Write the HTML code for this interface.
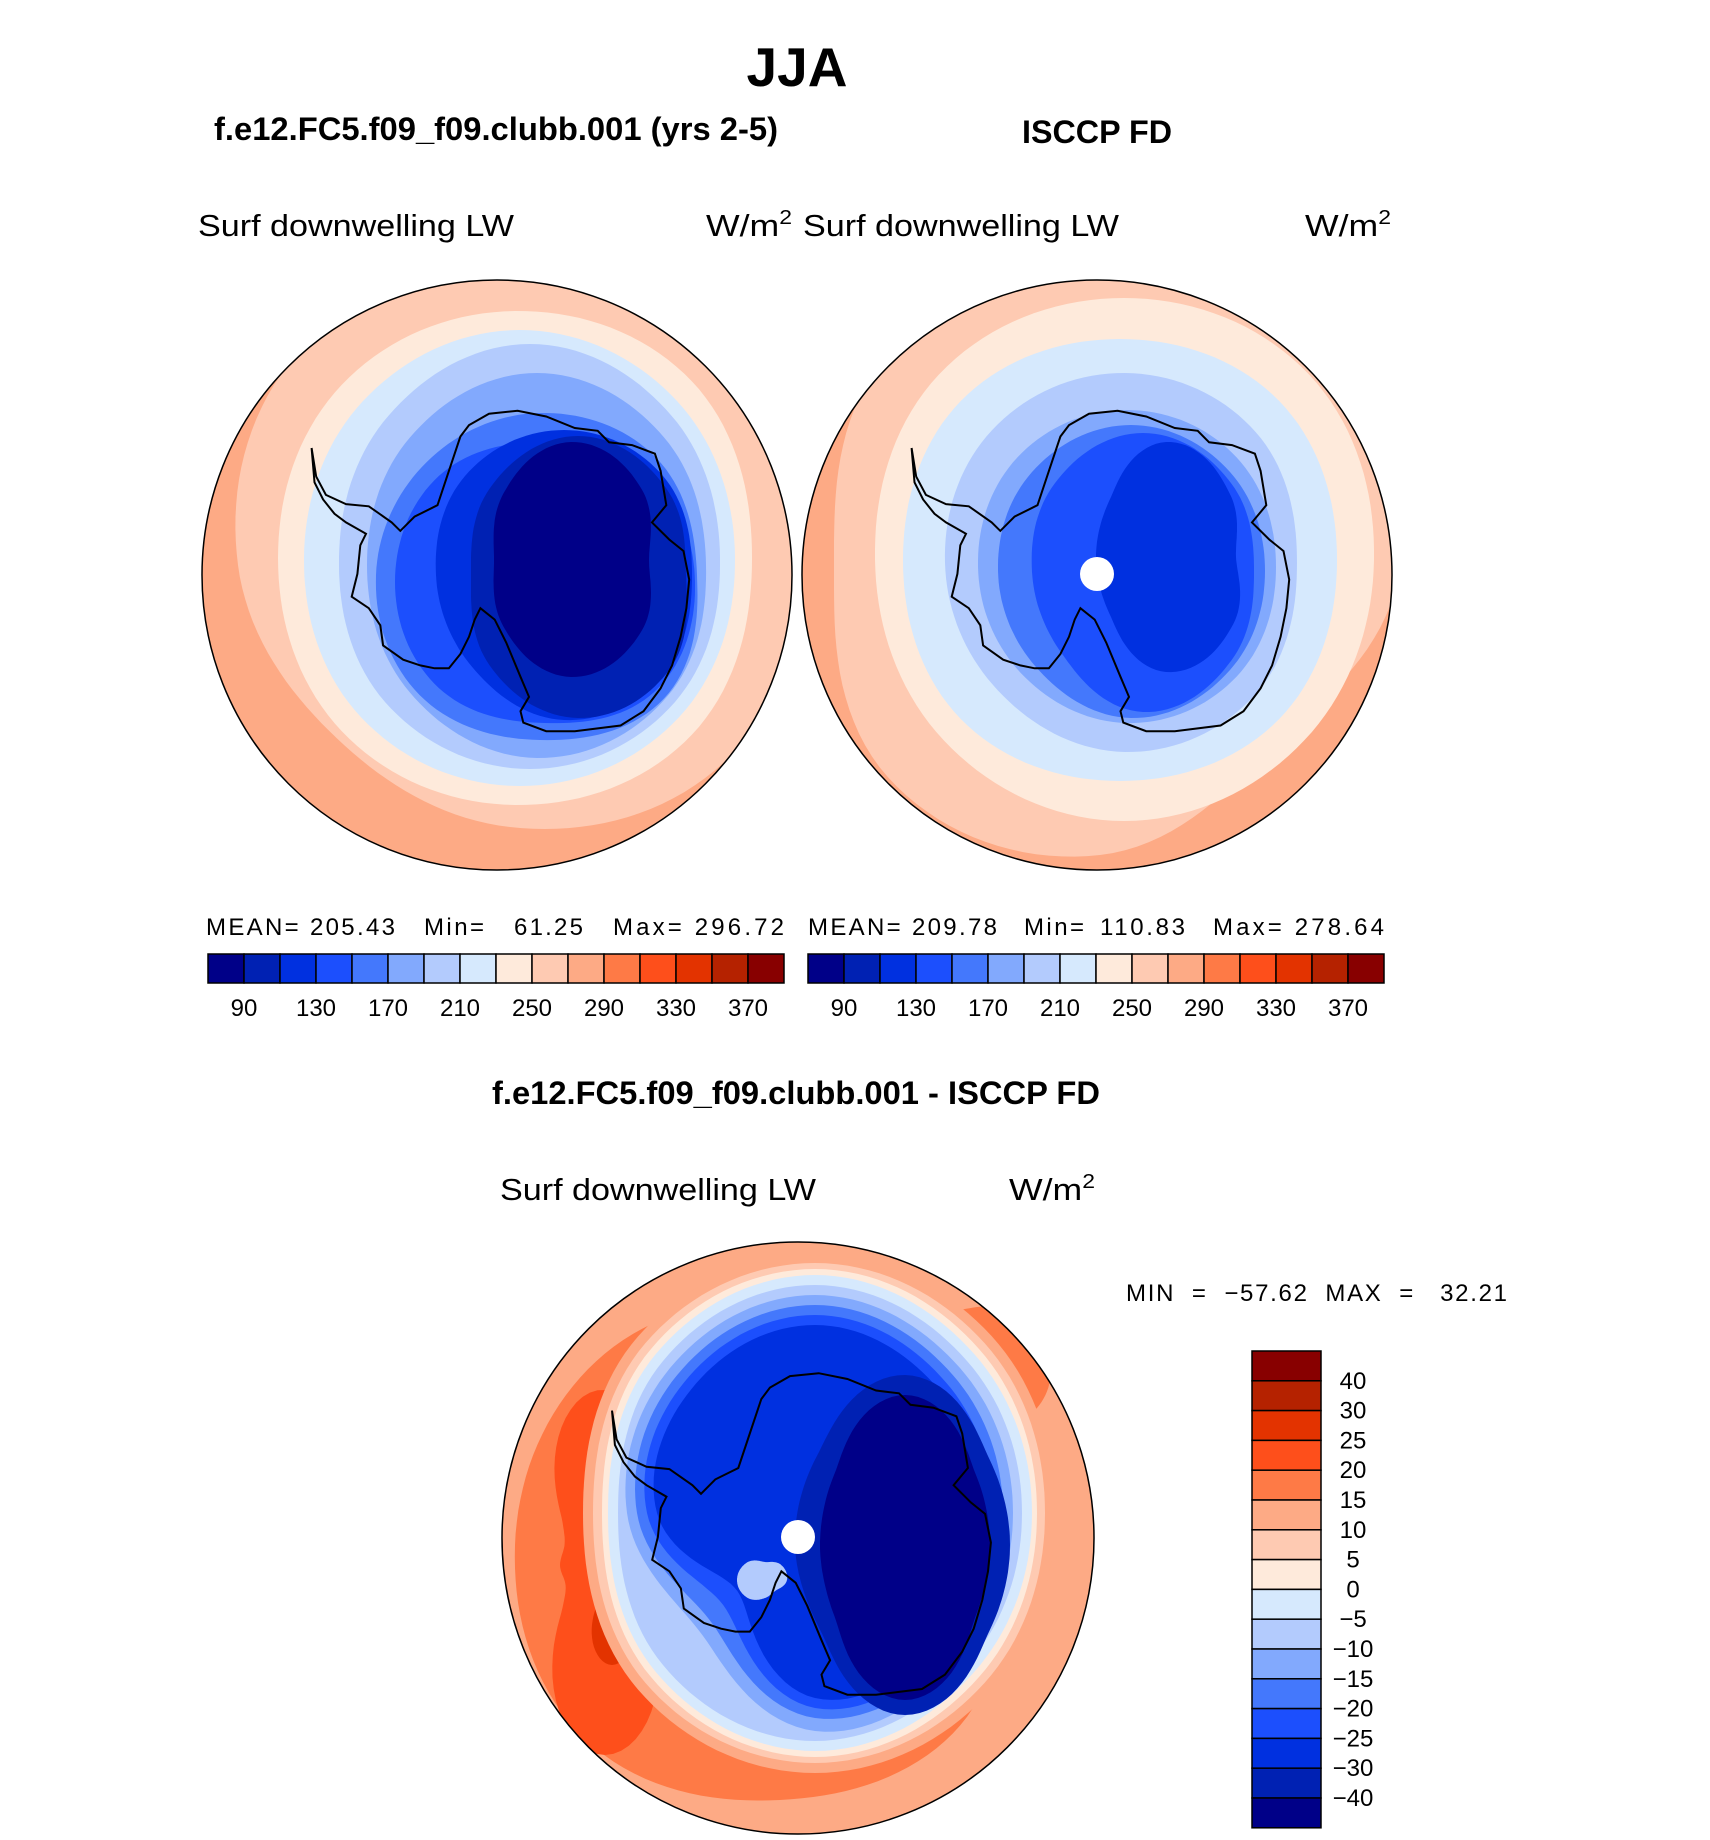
<!DOCTYPE html>
<html><head><meta charset="utf-8"><title>JJA Surf downwelling LW</title>
<style>
html,body{margin:0;padding:0;background:#fff;}
svg{display:block;}
text{font-family:"Liberation Sans",sans-serif;fill:#000;}
.b{font-weight:bold;}
</style></head>
<body>
<svg id="fig" width="1710" height="1840" viewBox="0 0 1710 1840" xmlns="http://www.w3.org/2000/svg">
<defs>
<clipPath id="clip1"><circle cx="497" cy="575" r="295"/></clipPath>
<clipPath id="clip2"><circle cx="1097" cy="575" r="295"/></clipPath>
<clipPath id="clip3"><circle cx="798" cy="1538" r="296"/></clipPath>
</defs>
<text x="797" y="86" font-size="55" class="b" text-anchor="middle">JJA</text>
<text x="214" y="140" font-size="32" class="b" textLength="564" lengthAdjust="spacingAndGlyphs">f.e12.FC5.f09_f09.clubb.001 (yrs 2-5)</text>
<text x="1022" y="143" font-size="32" class="b" textLength="150" lengthAdjust="spacingAndGlyphs">ISCCP FD</text>
<text x="492" y="1104" font-size="32" class="b" textLength="608" lengthAdjust="spacingAndGlyphs">f.e12.FC5.f09_f09.clubb.001 - ISCCP FD</text>

<text x="198" y="236" font-size="31" textLength="316" lengthAdjust="spacingAndGlyphs">Surf  downwelling  LW</text>
<text x="706" y="236" font-size="31" textLength="86" lengthAdjust="spacingAndGlyphs">W/m<tspan font-size="20" dy="-12">2</tspan></text>
<text x="803" y="236" font-size="31" textLength="316" lengthAdjust="spacingAndGlyphs">Surf  downwelling  LW</text>
<text x="1305" y="236" font-size="31" textLength="86" lengthAdjust="spacingAndGlyphs">W/m<tspan font-size="20" dy="-12">2</tspan></text>
<text x="500" y="1200" font-size="31" textLength="316" lengthAdjust="spacingAndGlyphs">Surf  downwelling  LW</text>
<text x="1009" y="1200" font-size="31" textLength="86" lengthAdjust="spacingAndGlyphs">W/m<tspan font-size="20" dy="-12">2</tspan></text>

<g id="map1" clip-path="url(#clip1)"></g>
<g id="map2" clip-path="url(#clip2)"></g>
<g id="map3" clip-path="url(#clip3)"></g>
<circle cx="1097" cy="574" r="17" fill="#fff"/>
<circle cx="798" cy="1537" r="17" fill="#fff"/>
<circle cx="497" cy="575" r="295" fill="none" stroke="#000" stroke-width="1.5"/>
<circle cx="1097" cy="575" r="295" fill="none" stroke="#000" stroke-width="1.5"/>
<circle cx="798" cy="1538" r="296" fill="none" stroke="#000" stroke-width="1.5"/>

<g font-size="24">
<text x="206" y="935" textLength="189" lengthAdjust="spacing">MEAN= 205.43</text><text x="424" y="935" textLength="60" lengthAdjust="spacing">Min=</text><text x="514" y="935" textLength="69" lengthAdjust="spacing">61.25</text><text x="613" y="935" textLength="171" lengthAdjust="spacing">Max= 296.72</text>
</g>
<g font-size="24">
<text x="808" y="935" textLength="189" lengthAdjust="spacing">MEAN= 209.78</text><text x="1024" y="935" textLength="60" lengthAdjust="spacing">Min=</text><text x="1100" y="935" textLength="85" lengthAdjust="spacing">110.83</text><text x="1213" y="935" textLength="171" lengthAdjust="spacing">Max= 278.64</text>
</g>
<text x="1126" y="1301" font-size="24" textLength="381" lengthAdjust="spacing" xml:space="preserve">MIN  =  −57.62  MAX  =   32.21</text>

<g id="cbar1"></g>
<g id="cbar2"></g>
<g id="cbar3"></g>
</svg>
<script>
const NS = "http://www.w3.org/2000/svg";
// colour table (shared by all panels)
const palette = ["#000088","#0021b3","#0030e0","#1c4ffd","#4478fc","#82a9fd","#b3cbfd","#d6e9fd","#feeadb","#fecab2","#fdaa85","#fe7a46","#fe4f1b","#e33300","#b52200","#880000"];
// colorbar tick labels
const absTickLabels = ["90","130","170","210","250","290","330","370"];
const diffTickLabels = ["40","30","25","20","15","10","5","0","−5","−10","−15","−20","−25","−30","−40"];
const diffColors = ["#880000","#b52200","#e33300","#fe4f1b","#fe7a46","#fdaa85","#fecab2","#feeadb","#d6e9fd","#b3cbfd","#82a9fd","#4478fc","#1c4ffd","#0030e0","#0021b3","#000088"];

// contour bands: level index, centre, radii at E,SE,S,SW,W,NW,N,NE
const map1Levels = [11,9,8,7,6,5,4,3,2,1,0];
const map1Centers = [[250,820],[510,565],[515,558],[520,558],[530,557],[537,565],[540,575],[545,582],[564,575],[578,577],[571,560]];
const map1Radii = [[40,40,60,60,60,40,30,40],[300,290,262,245,272,300,300,300],[237,250,247,245,237,245,247,250],[215,225,228,225,216,222,228,222],[190,205,212,205,191,200,213,200],[169,185,193,180,170,180,192,180],[157,175,165,170,164,160,162,165],[150,155,141,150,150,150,140,150],[128,140,145,130,128,140,145,140],[108,130,141,125,107,125,141,125],[78,100,117,95,77,95,118,100]];

const map2Levels = [9,8,7,6,5,4,3,2];
const map2Centers = [[1100,565],[1124,560],[1120,560],[1125,563],[1127,567],[1131,571],[1143,572],[1166,557]];
const map2Radii = [[300,250,290,300,266,300,300,300],[250,255,261,255,249,262,262,262],[217,225,221,225,217,225,221,225],[172,185,189,180,180,188,190,185],[149,155,156,150,149,155,157,155],[134,140,147,135,133,140,146,140],[111,125,140,115,111,125,139,125],[70,95,115,80,70,80,115,90]];

const map3Levels = [11,11,12,13,10,9,8,7,6,5,4,3,2,6,1,0];
const map3Centers = [[780,1545],[960,1380],[605,1565],[612,1590],[815,1513],[815,1513],[815,1513],[815,1513],[815,1513],[815,1513],[815,1513],[815,1513],[815,1513],[765,1580],[905,1545],[905,1545]];
const map3Radii = [[225,255,255,275,265,260,250,280],[90,70,60,60,60,70,70,90],[25,60,190,60,45,60,175,30],[15,22,75,22,18,22,75,15],[240,250,260,250,232,250,258,250],[230,240,250,240,222,240,250,240],[222,232,244,232,213,232,244,232],[217,225,238,225,207,225,238,225],[207,215,228,215,197,215,228,215],[198,205,218,165,188,205,218,205],[188,195,205,150,178,195,208,195],[178,185,195,130,168,185,198,185],[168,175,185,110,158,175,188,175],[22,15,18,25,28,25,18,22],[105,120,170,120,110,125,170,120],[85,100,155,100,85,100,150,100]];

// Antarctic coastline (traced in reference pixels, relative to map centre after conversion)
const coastZ = [[540,780],[548,830],[565,862],[600,878],[640,882],[680,910],[695,925],[720,900],[760,880],[780,820],[800,760],[815,740],[850,720],[900,715],[950,725],[1000,745],[1040,750],[1060,770],[1100,775],[1140,790],[1150,820],[1160,880],[1135,910],[1165,940],[1190,960],[1200,1010],[1195,1060],[1185,1110],[1170,1160],[1150,1200],[1120,1240],[1080,1265],[1000,1275],[950,1275],[910,1260],[905,1240],[920,1215],[905,1180],[880,1120],[860,1080],[835,1060],[825,1080],[815,1110],[800,1140],[780,1165],[755,1165],[730,1160],[700,1150],[665,1125],[660,1090],[640,1060],[610,1040],[620,1000],[625,950],[635,930],[600,910],[580,895],[560,870],[545,840]];

function radiusAt(radii, ang){
  const n = radii.length, step = 2*Math.PI/n;
  let t = ((ang % (2*Math.PI)) + 2*Math.PI) % (2*Math.PI) / step;
  const i = Math.floor(t), f = t - i;
  const p0 = radii[(i-1+n)%n], p1 = radii[i%n], p2 = radii[(i+1)%n], p3 = radii[(i+2)%n];
  return 0.5*((2*p1) + (-p0+p2)*f + (2*p0-5*p1+4*p2-p3)*f*f + (-p0+3*p1-3*p2+p3)*f*f*f);
}
function bandPath(c, radii){
  let d = "";
  for(let k=0;k<144;k++){
    const a = k/144*2*Math.PI, r = radiusAt(radii,a);
    d += (k?"L":"M") + (c[0]+r*Math.cos(a)).toFixed(1) + "," + (c[1]+r*Math.sin(a)).toFixed(1);
  }
  return d+"Z";
}
function drawMap(gid, cx, cy, R, levels, centers, radii, bgIdx){
  const g = document.getElementById(gid);
  const bg = document.createElementNS(NS,"rect");
  bg.setAttribute("x", cx-R-5); bg.setAttribute("y", cy-R-5);
  bg.setAttribute("width", 2*R+10); bg.setAttribute("height", 2*R+10);
  bg.setAttribute("fill", palette[bgIdx]);
  
  
  g.appendChild(bg);
  levels.forEach((lv,i)=>{
    const p = document.createElementNS(NS,"path");
    p.setAttribute("d", bandPath(centers[i], radii[i]));
    p.setAttribute("fill", palette[lv]);
    
    
    g.appendChild(p);
  });
  const s = R/296;
  let d = "";
  coastZ.forEach((pt,i)=>{
    const x = cx + (pt[0]-864)/1.742*s, y = cy + (pt[1]-1002)/1.742*s;
    d += (i?"L":"M") + x.toFixed(1) + "," + y.toFixed(1);
  });
  const coast = document.createElementNS(NS,"path");
  coast.setAttribute("d", d+"Z");
  coast.setAttribute("fill","none");
  coast.setAttribute("stroke","#000");
  coast.setAttribute("stroke-width","2");
  
  
  g.appendChild(coast);
}
drawMap("map1",497,575,295,map1Levels,map1Centers,map1Radii,10);
drawMap("map2",1097,575,295,map2Levels,map2Centers,map2Radii,10);
drawMap("map3",798,1538,296,map3Levels,map3Centers,map3Radii,10);

function hbar(gid, x0){
  const g = document.getElementById(gid), w = 36, y0 = 954, h = 29;
  palette.forEach((col,i)=>{
    const r = document.createElementNS(NS,"rect");
    r.setAttribute("x", x0+i*w); r.setAttribute("y", y0);
    r.setAttribute("width", w); r.setAttribute("height", h);
    r.setAttribute("fill", col); r.setAttribute("stroke","#000"); r.setAttribute("stroke-width","1.5");
    
    
    g.appendChild(r);
  });
  absTickLabels.forEach((lab,j)=>{
    const t = document.createElementNS(NS,"text");
    t.setAttribute("x", x0 + w*(2*j+1)); t.setAttribute("y", 1016);
    t.setAttribute("font-size","24"); t.setAttribute("text-anchor","middle");
    t.textContent = lab;
    
    
    g.appendChild(t);
  });
}
hbar("cbar1",208);
hbar("cbar2",808);

(function(){
  const g = document.getElementById("cbar3"), x0 = 1252, y0 = 1351, w = 69, h = 29.8;
  diffColors.forEach((col,i)=>{
    const r = document.createElementNS(NS,"rect");
    r.setAttribute("x", x0); r.setAttribute("y", y0+i*h);
    r.setAttribute("width", w); r.setAttribute("height", h);
    r.setAttribute("fill", col); r.setAttribute("stroke","#000"); r.setAttribute("stroke-width","1.5");
    
    
    g.appendChild(r);
  });
  diffTickLabels.forEach((lab,j)=>{
    const t = document.createElementNS(NS,"text");
    t.setAttribute("x", 1353); t.setAttribute("y", y0 + h*(j+1) + 8);
    t.setAttribute("font-size","24"); t.setAttribute("text-anchor","middle");
    t.textContent = lab;
    
    
    g.appendChild(t);
  });
})();
</script>
</body></html>
